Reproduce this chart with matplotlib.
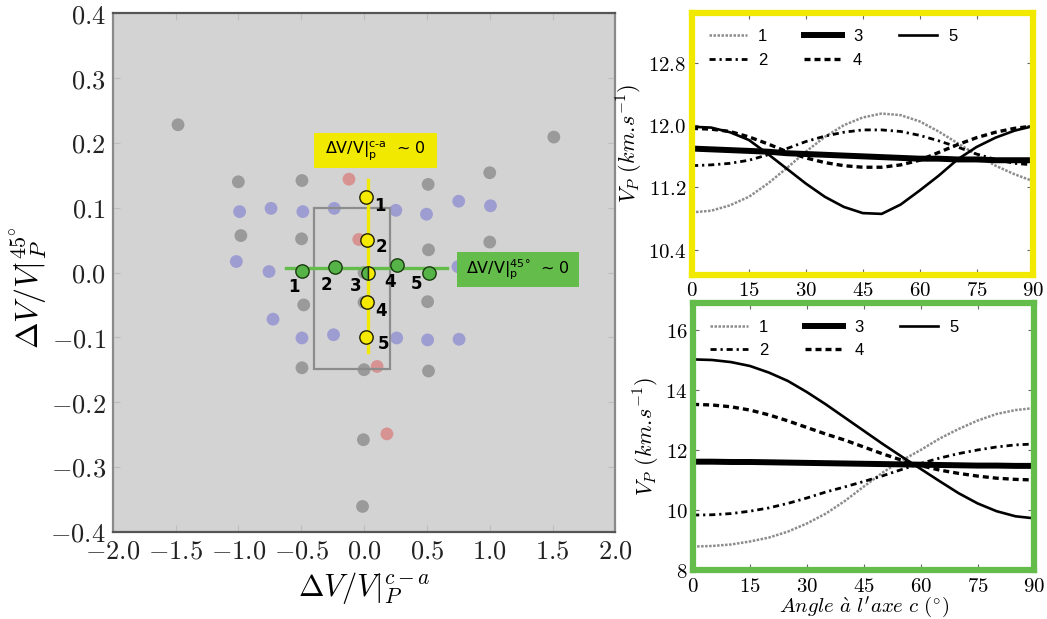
import matplotlib
matplotlib.use('Agg')
import matplotlib.pyplot as plt
from matplotlib.patches import Rectangle
from matplotlib.ticker import FuncFormatter

plt.rcParams['mathtext.fontset'] = 'cm'

# ---------------- data: left scatter ----------------
gray_x = [-1.48, 1.51, -1.0, -0.494, 0.51, 1.0, -0.98, -0.497, 0.513, 1.0, 0.0,
          -0.48, 0.0, 0.506, -0.494, 0.0, 0.513, -0.005, -0.012]
gray_y = [0.228, 0.209, 0.140, 0.142, 0.136, 0.154, 0.057, 0.052, 0.035, 0.047, 0.0,
          -0.050, -0.046, -0.045, -0.147, -0.150, -0.152, -0.258, -0.361]
blue_x = [-0.99, -0.74, -0.487, -0.237, 0.253, 0.497, 0.753, 1.006, -1.016, -0.756, 0.747,
          -0.724, -0.494, -0.243, 0.26, 0.506, 0.756]
blue_y = [0.094, 0.099, 0.094, 0.099, 0.096, 0.090, 0.110, 0.103, 0.017, 0.0015, 0.009,
          -0.072, -0.101, -0.096, -0.101, -0.104, -0.103]
red_x = [-0.12, -0.042, 0.104, 0.182]
red_y = [0.144, 0.051, -0.145, -0.249]

yellow_x = [0.016, 0.026, 0.03, 0.026, 0.019]
yellow_y = [0.116, 0.050, 0.0, -0.046, -0.100]
green_x = [-0.494, -0.234, 0.03, 0.26, 0.513]
green_y = [0.003, 0.008, 0.0, 0.011, -0.001]
point_labels = ['1', '2', '3', '4', '5']

x_ticks = [-2.0, -1.5, -1.0, -0.5, 0.0, 0.5, 1.0, 1.5, 2.0]
y_ticks = [-0.4, -0.3, -0.2, -0.1, 0.0, 0.1, 0.2, 0.3, 0.4]

# ---------------- data: right curves ----------------
angles = [0, 5, 10, 15, 20, 25, 30, 35, 40, 45, 50, 55, 60, 65, 70, 75, 80, 85, 90]

top1 = [10.88, 10.90, 10.97, 11.08, 11.25, 11.45, 11.66, 11.85, 12.00, 12.10, 12.15,
        12.13, 12.05, 11.92, 11.77, 11.62, 11.48, 11.37, 11.28]
top2 = [11.48, 11.49, 11.51, 11.55, 11.62, 11.70, 11.79, 11.86, 11.91, 11.94, 11.94,
        11.92, 11.87, 11.80, 11.72, 11.63, 11.56, 11.51, 11.49]
top3 = [11.70, 11.69, 11.68, 11.67, 11.66, 11.64, 11.63, 11.62, 11.61, 11.60, 11.59,
        11.58, 11.57, 11.57, 11.56, 11.56, 11.55, 11.55, 11.55]
top4 = [11.96, 11.95, 11.92, 11.85, 11.76, 11.66, 11.58, 11.52, 11.48, 11.46, 11.46,
        11.49, 11.55, 11.65, 11.75, 11.84, 11.91, 11.96, 11.99]
top5 = [11.98, 11.97, 11.91, 11.81, 11.63, 11.44, 11.25, 11.08, 10.95, 10.87, 10.86,
        10.98, 11.16, 11.35, 11.56, 11.72, 11.84, 11.93, 11.99]

bot1 = [8.78, 8.80, 8.85, 8.95, 9.08, 9.28, 9.55, 9.88, 10.30, 10.78, 11.25,
        11.65, 12.00, 12.38, 12.70, 12.98, 13.20, 13.33, 13.40]
bot2 = [9.83, 9.84, 9.88, 9.96, 10.07, 10.22, 10.40, 10.60, 10.77, 10.95, 11.14,
        11.35, 11.55, 11.73, 11.88, 12.00, 12.10, 12.17, 12.20]
bot3 = [11.61, 11.61, 11.60, 11.60, 11.59, 11.58, 11.57, 11.56, 11.55, 11.54, 11.53,
        11.52, 11.51, 11.50, 11.49, 11.48, 11.48, 11.47, 11.47]
bot4 = [13.52, 13.50, 13.44, 13.33, 13.17, 12.97, 12.75, 12.53, 12.33, 12.10, 11.87,
        11.66, 11.48, 11.33, 11.22, 11.13, 11.06, 11.02, 11.00]
bot5 = [15.02, 15.00, 14.93, 14.80, 14.58, 14.30, 13.93, 13.52, 13.08, 12.64, 12.20,
        11.78, 11.37, 10.96, 10.56, 10.22, 9.96, 9.79, 9.72]

angle_ticks = [0, 15, 30, 45, 60, 75, 90]
top_yticks = [10.4, 11.2, 12.0, 12.8]
bot_yticks = [8, 10, 12, 14, 16]
series_names = ['1', '2', '3', '4', '5']

# ---------------- styles ----------------
YEL = '#f2e900'
GRN = '#64bd4a'
GRAYPT = '#9a9a9a'
BLUEPT = '#9d9dd2'
REDPT = '#d69392'

fig = plt.figure(figsize=(10.47, 6.19), dpi=100)

# ================= left panel =================
ax = fig.add_axes([0.1076, 0.141, 0.4802, 0.8375])
ax.set_facecolor('#d3d3d3')
ax.set_xlim(-2, 2)
ax.set_ylim(-0.4, 0.4)
ax.set_xticks(x_ticks)
ax.set_yticks(y_ticks)
fmt1 = FuncFormatter(lambda v, p: f'${v:.1f}$')
ax.xaxis.set_major_formatter(fmt1)
ax.yaxis.set_major_formatter(fmt1)
ax.tick_params(direction='in', length=5, color='#bdbdbd', top=True, right=True,
               labelsize=19, pad=5, labelcolor='#222222')
for s in ['top', 'bottom']:
    ax.spines[s].set_color('#555555')
    ax.spines[s].set_linewidth(1.6)
for s in ['left', 'right']:
    ax.spines[s].set_color('#8a8a8a')
    ax.spines[s].set_linewidth(1.6)

msz = 85
ax.scatter(gray_x, gray_y, s=msz, color=GRAYPT, edgecolors='none', zorder=2)
ax.scatter(blue_x, blue_y, s=msz, color=BLUEPT, edgecolors='none', zorder=2)
ax.scatter(red_x, red_y, s=msz, color=REDPT, edgecolors='none', zorder=2)

ax.add_patch(Rectangle((-0.396, -0.149), 0.601, 0.248, fill=False,
                       edgecolor='#8c8c8c', linewidth=1.6, zorder=3))

ax.plot([-0.62, 0.66], [0.007, 0.007], color=GRN, lw=2.4, zorder=4)
ax.plot([0.03, 0.03], [-0.123, 0.143], color=YEL, lw=2.4, zorder=4)

MS = 9.6
for i in range(5):
    if i == 2:
        continue
    ax.plot(green_x[i], green_y[i], 'o', ms=MS, mfc='#55b347', mec='#1a3a10',
            mew=1.0, zorder=5)
    ax.plot(yellow_x[i], yellow_y[i], 'o', ms=MS, mfc='#f6ea00', mec='#202000',
            mew=1.0, zorder=5)
ax.plot(green_x[2], green_y[2], 'o', ms=MS, fillstyle='left', mfc='#55b347',
        markerfacecoloralt='#f6ea00', mec='#1a2a10', mew=1.0, zorder=6)

y_offsets = [(10, -6), (10, -5), (0, 0), (10, -6), (12, -5)]
g_offsets = [(-6, -12), (-6, -13), (-9, -10), (-5, -12), (-9, -8)]
for i, lab in enumerate(point_labels):
    if i != 2:
        ax.annotate(lab, (yellow_x[i], yellow_y[i]), xytext=y_offsets[i],
                    textcoords='offset points', ha='center', va='center',
                    fontsize=12, fontweight='bold', family='DejaVu Sans', zorder=7)
    ax.annotate(lab, (green_x[i], green_y[i]), xytext=g_offsets[i],
                textcoords='offset points', ha='center', va='center',
                fontsize=12, fontweight='bold', family='DejaVu Sans', zorder=7)

ax.add_patch(Rectangle((-0.396, 0.162), 0.974, 0.053, facecolor=YEL,
                       edgecolor='none', zorder=6))
ax.text(0.09, 0.189, r'ΔV/V|$_{\mathrm{p}}^{\mathrm{c\text{-}a}}$  ~ 0', ha='center',
        va='center', fontsize=11.5, family='DejaVu Sans', math_fontfamily='dejavusans',
        zorder=7)
ax.add_patch(Rectangle((0.74, -0.022), 0.97, 0.054, facecolor=GRN,
                       edgecolor='none', zorder=6))
ax.text(1.225, 0.005, r'ΔV/V|$_{\mathrm{p}}^{\mathrm{45°}}$  ~ 0', ha='center',
        va='center', fontsize=11.5, family='DejaVu Sans', math_fontfamily='dejavusans',
        zorder=7)

ax.set_xlabel(r'$\Delta V/V|_P^{c-a}$', fontsize=22, labelpad=4)
ax.set_ylabel(r'$\Delta V/V|_P^{45^{\circ}}$', fontsize=23, labelpad=6)
ax.yaxis.set_label_coords(-0.125, 0.47)

# ================= right panels =================
styles = [
    dict(color='0.55', lw=1.8, ls=(0, (1.0, 0.6))),
    dict(color='black', lw=2.0, ls=(0, (2.2, 1.4, 0.8, 1.4))),
    dict(color='black', lw=4.3, ls='-'),
    dict(color='black', lw=2.4, ls=(0, (1.8, 1.2))),
    dict(color='black', lw=1.9, ls='-'),
]

fmt_int = FuncFormatter(lambda v, p: f'${v:.0f}$')
fmt_dec = FuncFormatter(lambda v, p: f'${v:.1f}$')


def right_panel(rect, ys, ylim, yticks, yfmt, frame_color):
    a = fig.add_axes(rect)
    for y, lab, st in zip(ys, series_names, styles):
        a.plot(angles, y, label=lab, **st)
    a.set_xlim(0, 90)
    a.set_ylim(*ylim)
    a.set_xticks(angle_ticks)
    a.set_yticks(yticks)
    a.xaxis.set_major_formatter(fmt_int)
    a.yaxis.set_major_formatter(yfmt)
    a.tick_params(direction='in', length=4, top=True, right=True, labelsize=15,
                  pad=4, color='0.4')
    for s in a.spines.values():
        s.set_color(frame_color)
        s.set_linewidth(4.5)
    a.set_ylabel(r'$V_P\ (km.\!s^{-1})$', fontsize=16, labelpad=2)
    a.legend(ncol=3, loc='upper left', bbox_to_anchor=(0, 1), frameon=False,
             prop={'family': 'Liberation Sans', 'size': 12}, handlelength=2.3,
             handletextpad=0.65, columnspacing=2.2, labelspacing=0.5,
             borderaxespad=0.4, borderpad=0.6)
    return a


ax_top = right_panel([0.661, 0.5565, 0.326, 0.4233], [top1, top2, top3, top4, top5],
                     (10.08, 13.45), top_yticks, fmt_dec, YEL)
ax_bot = right_panel([0.662, 0.0792, 0.326, 0.4313], [bot1, bot2, bot3, bot4, bot5],
                     (8.0, 16.9), bot_yticks, fmt_int, GRN)
ax_bot.set_xlabel(r"$Angle\ \grave{a}\ l'axe\ c\ (^{\circ})$", fontsize=15, labelpad=-1)

fig.savefig('out.png', dpi=100)
